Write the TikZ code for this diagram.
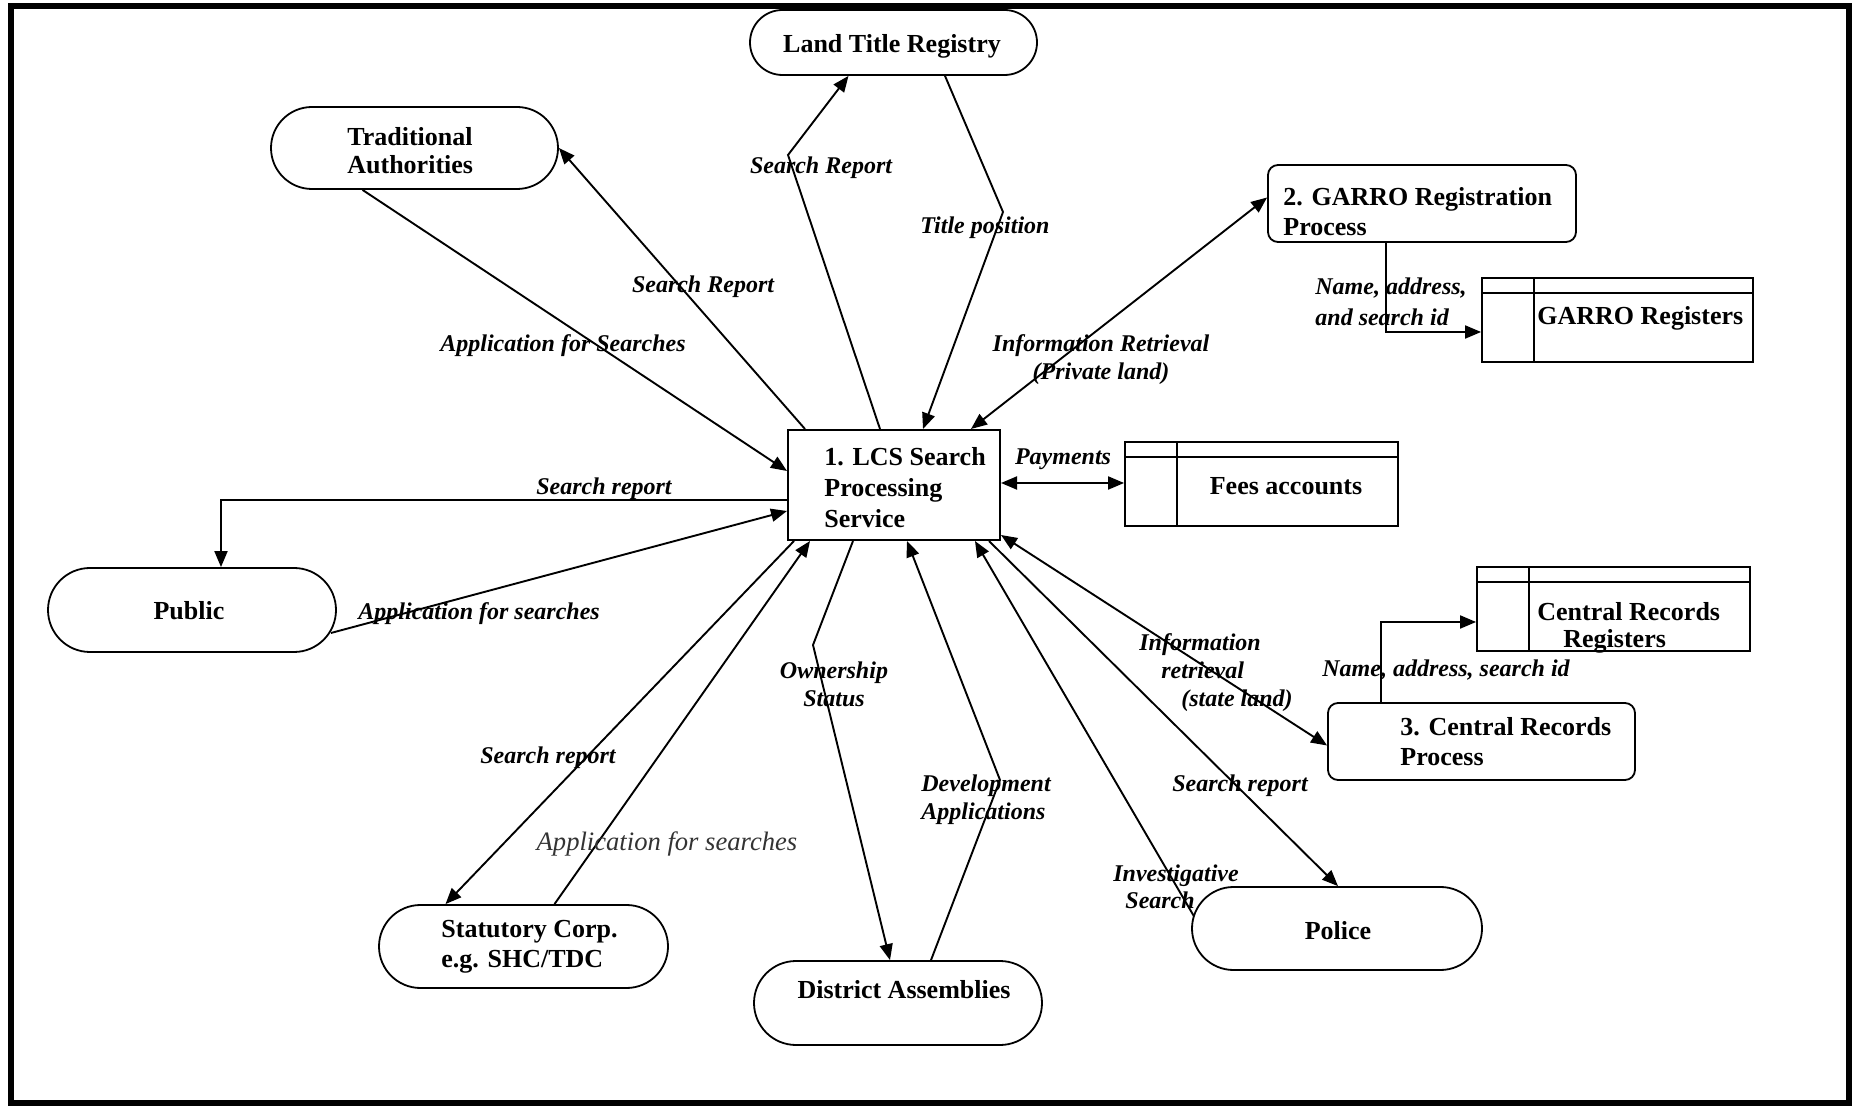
\documentclass[tikz,border=0pt]{standalone}
\usepackage{fontspec}
\setmainfont{Liberation Serif}
\usetikzlibrary{arrows.meta,shapes.misc,calc}
\begin{document}
\begin{tikzpicture}[x=0.5pt,y=-0.5pt,
  ent/.style={draw, line width=0.9pt, rounded rectangle, inner sep=0pt},
  proc/.style={draw, line width=0.9pt, rounded corners=5pt, inner sep=0pt},
  lcsbox/.style={draw, line width=1pt, inner sep=0pt},
  store/.style={draw, line width=0.9pt, inner sep=0pt},
  nt/.style={font=\fontsize{13}{15}\selectfont\bfseries, inner sep=0pt, align=left},
  lb/.style={font=\fontsize{12}{14}\selectfont\bfseries\itshape, inner sep=0pt},
  lbthin/.style={font=\fontsize{13.3}{15}\selectfont\itshape, text=black!80, inner sep=0pt},
  dflow/.style={line width=0.95pt, -{Triangle[length=8pt,width=6.5pt]}},
  dboth/.style={line width=0.95pt, {Triangle[length=8pt,width=6.5pt]}-{Triangle[length=8pt,width=6.5pt]}},
  inline/.style={line width=0.9pt}
]
\useasboundingbox (0,0) rectangle (1854,1106);
\draw[line width=3pt] (11,6) rectangle (1849,1103);

% shapes
\node[ent, minimum width=143.5pt, minimum height=32.5pt] (ltr) at (893.5,42.5) {};
\node[ent, minimum width=143.5pt, minimum height=41pt] (ta) at (414.5,148) {};
\node[ent, minimum width=144pt, minimum height=42pt] (pub) at (192,610) {};
\node[ent, minimum width=144.5pt, minimum height=41.5pt] (sc) at (523.5,946.5) {};
\node[ent, minimum width=144pt, minimum height=42pt] (da) at (898,1003) {};
\node[ent, minimum width=145pt, minimum height=41.5pt] (pol) at (1337,928.5) {};
\node[lcsbox, minimum width=106pt, minimum height=55pt] (lcs) at (894,485) {};
\node[proc, minimum width=154pt, minimum height=38.5pt] (garro) at (1422,203.5) {};
\node[proc, minimum width=153.5pt, minimum height=38.5pt] (crp) at (1481.5,741.5) {};
\node[store, minimum width=136.5pt, minimum height=42pt] (fees) at (1261.5,484) {};
\node[store, minimum width=135.5pt, minimum height=42pt] (greg) at (1617.5,320) {};
\node[store, minimum width=136.5pt, minimum height=42pt] (crr) at (1613.5,609) {};

% data store inner lines
\foreach \s in {fees,greg,crr}{
  \draw[inline] ($(\s.north west)+(0,16)$) -- ($(\s.north east)+(0,16)$);
  \draw[inline] ($(\s.north west)+(53,0)$) -- ($(\s.south west)+(53,0)$);
}

% node texts
\node[nt, anchor=base] (ltrT) at (892,53) {Land Title Registry};
\node[nt, anchor=north west, font=\fontsize{13}{14}\selectfont\bfseries] (taT) at (347,127) {Traditional\\Authorities};
\node[nt, anchor=north west, font=\fontsize{13}{15.5}\selectfont\bfseries] (lcsT) at (824,447) {1. LCS Search\\Processing\\Service};
\node[nt, anchor=base] (pubT) at (189,620) {Public};
\node[nt, anchor=north west] (scT) at (441,920) {Statutory Corp.\\e.g. SHC/TDC};
\node[nt, anchor=base] (daT) at (904,998) {District Assemblies};
\node[nt, anchor=base] (polT) at (1338,939) {Police};
\node[nt, anchor=north west] (garroT) at (1283,187) {2. GARRO Registration\\Process};
\node[nt, anchor=north west] (crpT) at (1400,717) {3. Central Records\\Process};
\node[nt, anchor=base] (feesT) at (1286,495) {Fees accounts};
\node[nt, anchor=base west] (gregT) at (1537,325) {GARRO Registers};
\node[nt, anchor=north west, font=\fontsize{13}{13.5}\selectfont\bfseries] (crrT) at (1537,602) {Central Records\\\hspace*{13pt}Registers};

% connectors
\draw[dflow] ($(ta.south)+(-52,0)$) -- ($(lcs.west)+(0,-14)$);
\draw[dflow] ($(lcs.north west)+(18,0)$) -- (ta.east);
\coordinate (k1) at (788,155);
\draw[dflow] ($(lcs.north)+(-14,0)$) -- (k1) -- ($(ltr.south)+(-45,0)$);
\coordinate (k2) at (1003,212);
\draw[dflow] ($(ltr.south)+(51.5,0)$) -- (k2) -- ($(lcs.north)+(29,0)$);
\draw[dboth] ($(lcs.north east)+(-30,0)$) -- ($(garro.west)+(0,-6)$);
\draw[dboth] ($(lcs.east)+(0,-2)$) -- ($(fees.west)+(0,-1)$);
\draw[dflow] ($(garro.south)+(-36,0)$) |- ($(greg.west)+(0,12)$);
\draw[dflow] ($(lcs.west)+(0,15)$) -| ($(pub.north)+(29,0)$);
\draw[dflow] ($(pub.east)+(-6,23)$) -- ($(lcs.west)+(0,26)$);
\draw[dboth] ($(lcs.south east)+(0,-6)$) -- ($(crp.west)+(0,4)$);
\draw[dflow] ($(crp.north)+(-100.5,0)$) |- ($(crr.west)+(0,13)$);
\draw[dflow] ($(lcs.south east)+(-12,0)$) -- ($(pol.north)+(1,0)$);
\draw[dflow] ($(pol.west)+(3,-12)$) -- ($(lcs.south east)+(-26,0)$);
\coordinate (k3) at (1000,780);
\draw[dflow] ($(da.north)+(33,0)$) -- (k3) -- ($(lcs.south)+(13,0)$);
\coordinate (k4) at (813,645);
\draw[dflow] ($(lcs.south)+(-41,0)$) -- (k4) -- ($(da.north)+(-8,0)$);
\draw[dflow] ($(lcs.south west)+(7,0)$) -- ($(sc.north)+(-78,0)$);
\draw[dflow] ($(sc.north)+(31,0)$) -- ($(lcs.south west)+(23,0)$);

% labels
\node[lb] (l1) at (563,346) {Application for Searches};
\node[lb] (l2) at (703,287) {Search Report};
\node[lb] (l3) at (821,168) {Search Report};
\node[lb] (l4) at (985,228) {Title position};
\node[lb, align=center] (l5) at (1101,360) {Information Retrieval\\(Private land)};
\node[lb, anchor=base] (l6) at (1063,465) {Payments};
\node[lb, align=left, anchor=north west, font=\fontsize{12}{15.5}\selectfont\bfseries\itshape] (l7) at (1315,277) {Name, address,\\and search id};
\node[lb, anchor=base west] (l8) at (1322,677) {Name, address, search id};
\node[lb, align=left, anchor=north west] (l9) at (1139,633) {Information\\\hspace*{11pt}retrieval\\\hspace*{21pt}(state land)};
\node[lb] (l10) at (1240,786) {Search report};
\node[lb, align=left, anchor=north west, font=\fontsize{12}{13.5}\selectfont\bfseries\itshape] (l11) at (1113,864) {Investigative\\\hspace*{6pt}Search};
\node[lb, align=left, anchor=west] (l12) at (921,800) {Development\\Applications};
\node[lb, align=center] (l13) at (834,684) {Ownership\\Status};
\node[lb] (l14) at (548,758) {Search report};
\node[lbthin] (l15) at (667,844) {Application for searches};
\node[lb] (l16) at (604,489) {Search report};
\node[lb, anchor=base west] (l17) at (358,620) {Application for searches};
\end{tikzpicture}
\end{document}
